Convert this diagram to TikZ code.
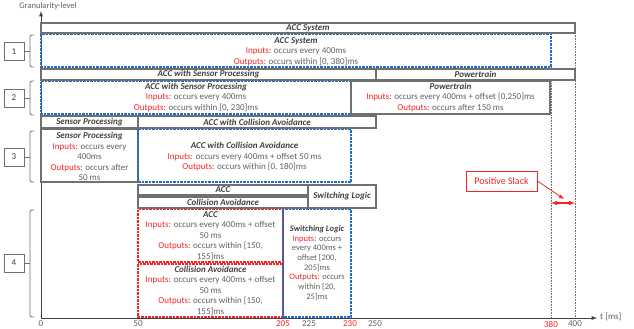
\documentclass[tikz,border=0pt]{standalone}
\usepackage{fontspec}
\setmainfont{Carlito}
\definecolor{linegray}{RGB}{112,112,112}
\definecolor{titlegray}{RGB}{64,64,64}
\definecolor{textgray}{RGB}{96,96,96}
\definecolor{specred}{RGB}{245,35,35}
\definecolor{specblue}{RGB}{30,110,200}
\newcommand{\inlab}{\textcolor{specred}{Inputs:}}
\newcommand{\outlab}{\textcolor{specred}{Outputs:}}
\newcommand{\boxtitle}[1]{{\color{titlegray}\bfseries\itshape #1}}
\begin{document}
\begin{tikzpicture}[x=1pt,y=-1pt,
	bar/.style={draw=linegray,line width=1.1pt,fill=white},
	solidbox/.style={draw=linegray,line width=1.1pt},
	bluebox/.style={draw=specblue,line width=1.2pt,dash pattern=on 2.5pt off 1pt},
	redbox/.style={draw=specred,line width=1.2pt,dash pattern=on 2.5pt off 1pt},
	boxtxt/.style={text=textgray,font=\fontsize{9}{10.5}\selectfont,align=center,inner sep=0pt},
	bartxt/.style={text=titlegray,font=\fontsize{9}{10}\selectfont\bfseries\itshape,inner sep=0pt},
	ticklbl/.style={font=\fontsize{9}{10}\selectfont,inner sep=0pt},
	levelbox/.style={draw=linegray,line width=0.8pt,minimum width=20pt,minimum height=18pt,inner sep=0pt,text=titlegray,font=\fontsize{9}{10}\selectfont},
	bracket/.style={draw=linegray,line width=0.8pt,rounded corners=2pt},
	axis/.style={draw=titlegray,line width=0.9pt,arrows={-latex}},
	guide/.style={draw=linegray,line width=0.6pt,dash pattern=on 0.8pt off 0.8pt}]
	\useasboundingbox (0,0) rectangle (634,329);
	\coordinate (origin) at (41,318);
	\coordinate (ytop) at (41,11);
	\coordinate (xend) at (597,318);
	\draw[guide] (551,67) -- (551,318);
	\draw[guide] (575,33) -- (575,318);
	\draw[axis] (origin) -- (ytop);
	\draw[axis] (origin) -- (xend);
	\node[text=textgray,font=\fontsize{8.5}{10}\selectfont] (ylab) at (48,6.5) {Granularity-level};
	\node[text=textgray,font=\fontsize{9}{10}\selectfont,anchor=west,inner sep=0pt] (xlab) at (600,317) {t [ms]};
	\foreach \x/\t/\c in {41/0/textgray,138/50/textgray,283/205/specred,309/225/textgray,350/230/specred,375/250/textgray,551/380/specred,575/400/textgray}
		\node[ticklbl,text=\c] (tick\t) at (\x,324) {\t};
	\foreach \n/\top/\bot/\mid in {1/35/67/51.5,2/81/115/98,3/131/182/157,4/210/317/263} {
		\node[levelbox] (level\n) at (14,\mid) {\n};
		\draw[bracket] (34,\top) -- (30,\top) -- (30,\bot) -- (34,\bot);
		\draw[draw=linegray,line width=0.8pt] (level\n.east) -- (30,\mid);
	}

	\draw[bar] (41,23) rectangle (575,33);
	\node[bartxt] (accsysbar) at (308,28) {ACC System};
	\draw[bluebox] (41,34.5) rectangle (551,67);
	\node[boxtxt] (accsys) at (296,51.5) {\boxtitle{ACC System}\\
		\inlab{} occurs every 400ms\\ \outlab{} occurs within [0, 380]ms};

	\draw[bar] (41,69) rectangle (376,80);
	\node[bartxt] (accspbar) at (208.5,74.5) {ACC with Sensor Processing};
	\draw[bar] (376,69) rectangle (575,80);
	\node[bartxt] (ptbar) at (475.5,74.5) {Powertrain};
	\draw[bluebox] (41,81.5) rectangle (351,114);
	\node[boxtxt] (accsp) at (196,97.5) {\boxtitle{ACC with Sensor Processing}\\
		\inlab{} occurs every 400ms\\ \outlab{} occurs within [0, 230]ms};
	\draw[solidbox] (351,81) rectangle (550,114);
	\node[boxtxt] (pt) at (450.5,97.5) {\boxtitle{Powertrain}\\
		\inlab{} occurs every 400ms + offset [0,250]ms\\ \outlab{} occurs after 150 ms};

	\draw[bar] (41,116) rectangle (138,128);
	\node[bartxt] (spbar) at (89.5,122) {Sensor Processing};
	\draw[bar] (138,116) rectangle (376,128);
	\node[bartxt] (accchbar) at (257,122) {ACC with Collision Avoidance};
	\draw[solidbox] (41,129.5) rectangle (138,182);
	\node[boxtxt] (sp) at (89.5,156.5) {\boxtitle{Sensor Processing}\\
		\inlab{} occurs every\\ 400ms\\ \outlab{} occurs after\\ 50 ms};
	\draw[bluebox] (138,129.5) rectangle (351,182);
	\node[boxtxt] (accca) at (244.5,157) {\boxtitle{ACC with Collision Avoidance}\\
		\inlab{} occurs every 400ms + offset 50 ms\\ \outlab{} occurs within [0, 180]ms};

	\draw[bar] (138,185) rectangle (308,195);
	\node[bartxt] (accbar) at (223,190) {ACC};
	\draw[bar] (138,197) rectangle (308,208);
	\node[bartxt] (cabar) at (223,202.5) {Collision Avoidance};
	\draw[bar] (308,185) rectangle (376,208);
	\node[bartxt] (slbar) at (342,196.5) {Switching Logic};
	\draw[redbox] (138,209.5) rectangle (283,262);
	\node[boxtxt] (acc) at (210.5,236) {\boxtitle{ACC}\\
		\inlab{} occurs every 400ms + offset\\ 50 ms\\ \outlab{} occurs within [150,\\ 155]ms};
	\draw[redbox] (138,264) rectangle (283,317);
	\node[boxtxt] (ca) at (210.5,290.5) {\boxtitle{Collision Avoidance}\\
		\inlab{} occurs every 400ms + offset\\ 50 ms\\ \outlab{} occurs within [150,\\ 155]ms};
	\draw[bluebox] (283,209.5) rectangle (351,317);
	\node[boxtxt,font=\fontsize{8.5}{9.7}\selectfont] (sl) at (317,263) {\boxtitle{Switching Logic}\\
		\inlab{} occurs\\ every 400ms +\\ offset [200,\\ 205]ms\\ \outlab{} occurs\\ within [20,\\ 25]ms};

	\node[draw=specred,line width=0.9pt,text=specred,minimum width=71pt,minimum height=20pt,inner sep=0pt,font=\fontsize{10}{12}\selectfont] (slack) at (501.5,181) {Positive Slack};
	\coordinate (slacktip) at (564,199);
	\coordinate (slackL) at (551,203);
	\coordinate (slackR) at (575,203);
	\draw[specred,line width=0.8pt,arrows={-latex}] (slack.east) -- (slacktip);
	\draw[specred,line width=1.1pt,arrows={latex-latex}] (slackL) -- (slackR);
\end{tikzpicture}
\end{document}
